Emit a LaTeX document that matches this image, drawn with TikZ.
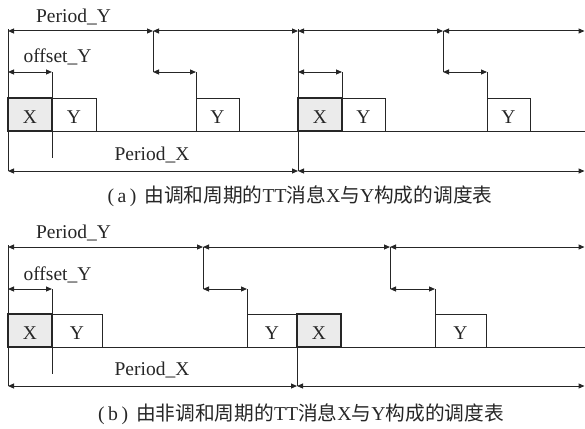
\documentclass[tikz,border=0pt]{standalone}
\usepackage{fontspec}
\setmainfont{Liberation Serif}
\newfontfamily\cjk{Noto Sans CJK SC}
\usetikzlibrary{arrows.meta}
\definecolor{ink}{HTML}{262626}
\definecolor{xfill}{HTML}{EBEBEB}
\begin{document}
\begin{tikzpicture}[x=1pt,y=-1pt,
  line width=1pt, draw=ink,
  every node/.style={inner sep=0pt, text=ink},
  lab/.style={font=\fontsize{19.5}{22}\selectfont, anchor=base},
  captext/.style={font=\fontsize{19.7}{22}\selectfont, anchor=base},
  dim/.style={{Triangle[length=6pt,width=5pt]}-{Triangle[length=6pt,width=5pt]}, draw=ink},
  ln/.style={draw=ink},
  xbox/.style={draw=ink, fill=xfill, line width=1.2pt},
  ybox/.style={draw=ink, fill=white}]
\useasboundingbox (0,0) rectangle (585,428);

% ================= panel (a) =================
\filldraw[xbox] (8,98) rectangle (52,131);
\node[lab] (ax1) at (30,123.5) {X};
\draw[ybox] (52,98) rectangle (96,131);
\node[lab] (ay1) at (74,123.5) {Y};
\draw[ybox] (196,98) rectangle (239,131);
\node[lab] (ay2) at (217.5,123.5) {Y};
\filldraw[xbox] (298,98) rectangle (342,131);
\node[lab] (ax2) at (320,123.5) {X};
\draw[ybox] (342,98) rectangle (385,131);
\node[lab] (ay3) at (363.5,123.5) {Y};
\draw[ybox] (487,98) rectangle (530,131);
\node[lab] (ay4) at (508.5,123.5) {Y};
\draw[ln] (8,131) -- (585,131);
\coordinate (a0t) at (8,31);   \coordinate (a1t) at (153,31);
\coordinate (a2t) at (298,31); \coordinate (a3t) at (443,31);
\coordinate (a4t) at (584.5,31);
\coordinate (a0o) at (8,72);   \coordinate (a0e) at (52,72);
\coordinate (a1o) at (153,72); \coordinate (a1e) at (196,72);
\coordinate (a2o) at (298,72); \coordinate (a2e) at (342,72);
\coordinate (a3o) at (443,72); \coordinate (a3e) at (487,72);
\coordinate (a0b) at (8,171);  \coordinate (a2b) at (298,171);
\coordinate (a4b) at (584.5,171);
\draw[ln] (8,29) -- (a0b);
\draw[ln] (a1t) -- (a1o);
\draw[ln] (298,29) -- (a2b);
\draw[ln] (a3t) -- (a3o);
\draw[ln] (a0e) -- (52,158);
\draw[ln] (a1e) -- (196,131);
\draw[ln] (a2e) -- (342,98);
\draw[ln] (a3e) -- (487,131);
\draw[dim] (a0t) -- (a1t);
\draw[dim] (a1t) -- (a2t);
\draw[dim] (a2t) -- (a3t);
\draw[dim] (a3t) -- (a4t);
\draw[dim] (a0o) -- (a0e);
\draw[dim] (a1o) -- (a1e);
\draw[dim] (a2o) -- (a2e);
\draw[dim] (a3o) -- (a3e);
\draw[dim] (a0b) -- (a2b);
\draw[dim] (a2b) -- (a4b);
\node[lab] (apy) at (73.5,22.7) {Period\_Y};
\node[lab] (aoy) at (57.5,63) {offset\_Y};
\node[lab] (apx) at (152,160) {Period\_X};
\node[captext] (acap) at (300,202) {(\hspace{3.5pt}a\hspace{3.5pt})\hspace{8pt}{\cjk 由调和周期的}TT{\cjk 消息}X{\cjk 与}Y{\cjk 构成的调度表}};

% ================= panel (b) =================
\filldraw[xbox] (8,314) rectangle (52,347);
\node[lab] (bx1) at (30,339.5) {X};
\draw[ybox] (52,314) rectangle (102,347);
\node[lab] (by1) at (77,339.5) {Y};
\draw[ybox] (247,314) rectangle (297,347);
\node[lab] (by2) at (272,339.5) {Y};
\filldraw[xbox] (297,314) rectangle (341,347);
\node[lab] (bx2) at (319,339.5) {X};
\draw[ybox] (435,314) rectangle (486,347);
\node[lab] (by3) at (460.5,339.5) {Y};
\draw[ln] (8,347) -- (585,347);
\coordinate (b0t) at (8,247);   \coordinate (b1t) at (203,247);
\coordinate (b2t) at (390,247); \coordinate (b3t) at (584.5,247);
\coordinate (b0o) at (8,289);   \coordinate (b0e) at (52,289);
\coordinate (b1o) at (203,289); \coordinate (b1e) at (247,289);
\coordinate (b2o) at (390,289); \coordinate (b2e) at (435,289);
\coordinate (b0b) at (8,386);   \coordinate (b1b) at (297,386);
\coordinate (b2b) at (584.5,386);
\draw[ln] (8,245) -- (b0b);
\draw[ln] (b1t) -- (b1o);
\draw[ln] (b2t) -- (b2o);
\draw[ln] (297,347) -- (b1b);
\draw[ln] (b0e) -- (52,374);
\draw[ln] (b1e) -- (247,347);
\draw[ln] (b2e) -- (435,347);
\draw[dim] (b0t) -- (b1t);
\draw[dim] (b1t) -- (b2t);
\draw[dim] (b2t) -- (b3t);
\draw[dim] (b0o) -- (b0e);
\draw[dim] (b1o) -- (b1e);
\draw[dim] (b2o) -- (b2e);
\draw[dim] (b0b) -- (b1b);
\draw[dim] (b1b) -- (b2b);
\node[lab] (bpy) at (73.5,238.7) {Period\_Y};
\node[lab] (boy) at (57.5,280) {offset\_Y};
\node[lab] (bpx) at (152,375) {Period\_X};
\node[captext] (bcap) at (301,420) {(\hspace{3.5pt}b\hspace{3.5pt})\hspace{8pt}{\cjk 由非调和周期的}TT{\cjk 消息}X{\cjk 与}Y{\cjk 构成的调度表}};
\end{tikzpicture}
\end{document}
